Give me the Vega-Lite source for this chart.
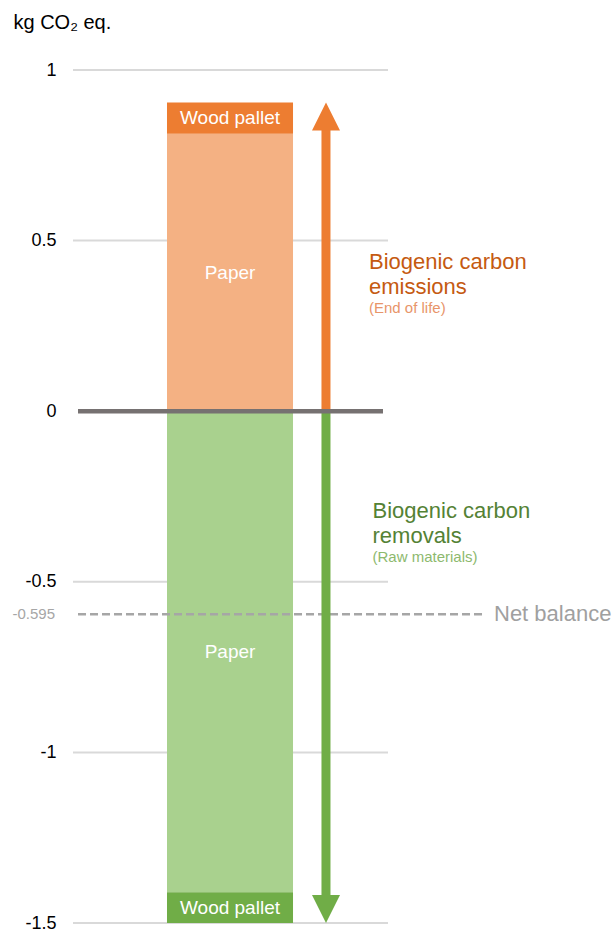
{
  "$schema": "https://vega.github.io/schema/vega-lite/v6.json",
  "width": 552,
  "height": 853,
  "autosize": {"type": "none"},
  "padding": {"left": 63, "top": 70, "right": 0, "bottom": 10},
  "background": "white",
  "config": {
    "view": {"stroke": null},
    "axisX": {"disable": true},
    "font": "Liberation Sans"
  },
  "datasets": {
    "bars": [
      {"flow": "Emissions", "part": "Paper", "value": 0.813},
      {"flow": "Emissions", "part": "Wood pallet", "value": 0.092},
      {"flow": "Removals", "part": "Paper", "value": -1.41},
      {"flow": "Removals", "part": "Wood pallet", "value": -0.09}
    ],
    "net": [{"label": "Net balance", "value": -0.595}],
    "grid": [{"v": 1}, {"v": 0.5}, {"v": -0.5}, {"v": -1}, {"v": -1.5}]
  },
  "layer": [
    {
      "data": {"name": "grid"},
      "mark": {"type": "rule", "color": "#D9D9D9", "strokeWidth": 2},
      "encoding": {
        "y": {
          "field": "v", "type": "quantitative",
          "scale": {"domain": [-1.5, 1], "nice": false, "zero": false},
          "axis": {
            "title": "kg CO₂ eq.",
            "values": [1, 0.5, 0, -0.5, -1, -1.5],
            "labelExpr": "'' + datum.value",
            "grid": false, "domain": false, "ticks": false,
            "labelPadding": 7, "labelFontSize": 18, "labelColor": "#000000",
            "labelFont": "Liberation Sans", "labelFlush": false, "labelOverlap": false, "labelBound": false,
            "labelBaseline": "middle",
            "titleAngle": 0, "titleAlign": "left", "titleBaseline": "alphabetic",
            "titleX": -50, "titleY": -42, "titleFontSize": 20, "titleFontWeight": "normal",
            "titleColor": "#000000", "titleFont": "Liberation Sans"
          }
        },
        "x": {"datum": 0.181, "type": "quantitative", "scale": {"domain": [0, 10], "nice": false, "zero": false}},
        "x2": {"datum": 5.888}
      }
    },
    {
      "data": {"name": "bars"},
      "transform": [
        {"stack": "value", "groupby": ["flow"], "sort": [{"field": "part", "order": "ascending"}], "as": ["v0", "v1"]}
      ],
      "mark": {"type": "rect"},
      "encoding": {
        "y": {"field": "v0", "type": "quantitative"},
        "y2": {"field": "v1"},
        "x": {"datum": 1.884, "type": "quantitative"},
        "x2": {"datum": 4.167},
        "color": {
          "condition": [
            {"test": "datum.flow === 'Emissions' && datum.part === 'Paper'", "value": "#F4B183"},
            {"test": "datum.flow === 'Emissions'", "value": "#ED7D31"},
            {"test": "datum.part === 'Paper'", "value": "#A9D18E"}
          ],
          "value": "#70AD47"
        }
      }
    },
    {
      "data": {"name": "bars"},
      "transform": [
        {"stack": "value", "groupby": ["flow"], "sort": [{"field": "part", "order": "ascending"}], "as": ["v0", "v1"]},
        {"calculate": "(datum.v0 + datum.v1) / 2", "as": "mid"}
      ],
      "mark": {"type": "text", "color": "#FFFFFF", "fontSize": 19, "align": "center", "baseline": "middle", "font": "Liberation Sans"},
      "encoding": {
        "y": {"field": "mid", "type": "quantitative"},
        "x": {"datum": 3.025, "type": "quantitative"},
        "text": {"field": "part", "type": "nominal"}
      }
    },
    {
      "data": {"name": "net"},
      "mark": {"type": "rule", "color": "#A6A6A6", "strokeWidth": 2.5, "strokeDash": [8, 4]},
      "encoding": {
        "y": {"field": "value", "type": "quantitative"},
        "x": {"datum": 0.272, "type": "quantitative"},
        "x2": {"datum": 7.609}
      }
    },
    {
      "data": {"name": "net"},
      "mark": {"type": "text", "color": "#A0A0A0", "fontSize": 22, "align": "left", "baseline": "middle", "font": "Liberation Sans"},
      "encoding": {
        "y": {"field": "value", "type": "quantitative"},
        "x": {"datum": 7.808, "type": "quantitative"},
        "text": {"field": "label", "type": "nominal"}
      }
    },
    {
      "data": {"name": "net"},
      "mark": {"type": "text", "color": "#A6A6A6", "fontSize": 15, "align": "right", "baseline": "middle", "font": "Liberation Sans"},
      "encoding": {
        "y": {"field": "value", "type": "quantitative"},
        "x": {"datum": -0.145, "type": "quantitative"},
        "text": {"field": "value", "type": "nominal"}
      }
    },
    {
      "data": {"name": "bars"},
      "transform": [
        {"aggregate": [{"op": "sum", "field": "value", "as": "total"}], "groupby": ["flow"]},
        {"filter": "datum.flow === 'Emissions'"}
      ],
      "mark": {"type": "rule", "color": "#ED7D31", "strokeWidth": 9, "yOffset": 26},
      "encoding": {
        "y": {"field": "total", "type": "quantitative"},
        "y2": {"datum": 0},
        "x": {"datum": 4.764, "type": "quantitative"}
      }
    },
    {
      "data": {"name": "bars"},
      "transform": [
        {"aggregate": [{"op": "sum", "field": "value", "as": "total"}], "groupby": ["flow"]},
        {"filter": "datum.flow === 'Removals'"}
      ],
      "mark": {"type": "rule", "color": "#70AD47", "strokeWidth": 9, "yOffset": -26},
      "encoding": {
        "y": {"field": "total", "type": "quantitative"},
        "y2": {"datum": 0},
        "x": {"datum": 4.764, "type": "quantitative"}
      }
    },
    {
      "data": {"name": "bars"},
      "transform": [
        {"aggregate": [{"op": "sum", "field": "value", "as": "total"}], "groupby": ["flow"]}
      ],
      "mark": {"type": "point", "filled": true, "size": 784, "strokeWidth": 0, "opacity": 1},
      "encoding": {
        "y": {"field": "total", "type": "quantitative"},
        "x": {"datum": 4.764, "type": "quantitative"},
        "shape": {
          "condition": {"test": "datum.flow === 'Emissions'", "value": "M-1,2L0,0L1,2Z"},
          "value": "M-1,-2L0,0L1,-2Z"
        },
        "color": {
          "condition": {"test": "datum.flow === 'Emissions'", "value": "#ED7D31"},
          "value": "#70AD47"
        }
      }
    },
    {
      "data": {"values": [{"v": 0}]},
      "mark": {"type": "rule", "color": "#767171", "strokeWidth": 4.5},
      "encoding": {
        "y": {"field": "v", "type": "quantitative"},
        "x": {"datum": 0.272, "type": "quantitative"},
        "x2": {"datum": 5.797}
      }
    },
    {
      "data": {"values": [{"title": "Biogenic carbon emissions", "note": "(End of life)"}]},
      "layer": [
        {
          "mark": {"type": "text", "align": "left", "baseline": "alphabetic", "fontSize": 22, "lineHeight": 25, "color": "#C55A11", "font": "Liberation Sans"},
          "encoding": {
            "x": {"datum": 5.543, "type": "quantitative"},
            "y": {"datum": 0.418, "type": "quantitative"},
            "text": {"value": ["Biogenic carbon", "emissions"]}
          }
        },
        {
          "mark": {"type": "text", "align": "left", "baseline": "alphabetic", "fontSize": 15, "color": "#E8956A", "font": "Liberation Sans"},
          "encoding": {
            "x": {"datum": 5.543, "type": "quantitative"},
            "y": {"datum": 0.287, "type": "quantitative"},
            "text": {"field": "note", "type": "nominal"}
          }
        }
      ]
    },
    {
      "data": {"values": [{"title": "Biogenic carbon removals", "note": "(Raw materials)"}]},
      "layer": [
        {
          "mark": {"type": "text", "align": "left", "baseline": "alphabetic", "fontSize": 22, "lineHeight": 25, "color": "#548235", "font": "Liberation Sans"},
          "encoding": {
            "x": {"datum": 5.607, "type": "quantitative"},
            "y": {"datum": -0.312, "type": "quantitative"},
            "text": {"value": ["Biogenic carbon", "removals"]}
          }
        },
        {
          "mark": {"type": "text", "align": "left", "baseline": "alphabetic", "fontSize": 15, "color": "#8DB96E", "font": "Liberation Sans"},
          "encoding": {
            "x": {"datum": 5.607, "type": "quantitative"},
            "y": {"datum": -0.443, "type": "quantitative"},
            "text": {"field": "note", "type": "nominal"}
          }
        }
      ]
    }
  ]
}
